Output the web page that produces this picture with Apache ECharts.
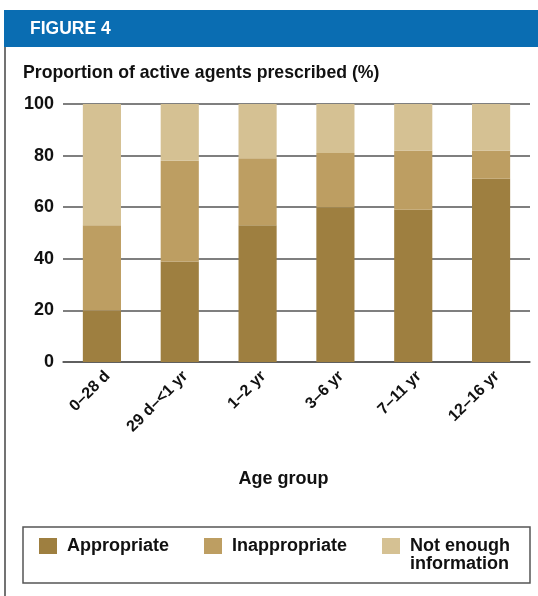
<!DOCTYPE html>
<html>
<head>
<meta charset="utf-8">
<script src="https://cdn.jsdelivr.net/npm/echarts@6/dist/echarts.min.js"></script>
<style>
  html, body { margin: 0; padding: 0; background: #ffffff; }
  #chart { width: 538px; height: 596px; }
</style>
</head>
<body>
<div id="chart"></div>
<script>
// Age groups along the x axis
const categories = ['0–28 d', '29 d–<1 yr', '1–2 yr', '3–6 yr', '7–11 yr', '12–16 yr'];
// Share of active agents prescribed (%), stacked per age group
const appropriate   = [20, 39, 53, 60, 59, 71];
const inappropriate = [33, 39, 26, 21, 23, 11];
const notEnough     = [47, 22, 21, 19, 18, 18];
const yTicks = { min: 0, max: 100, interval: 20 };

const FONT = '"Liberation Sans", Arial, sans-serif';
const COLORS = ['#9e7f40', '#bd9e62', '#d5c193'];
const GRID_LINE = '#555555';

const chart = echarts.init(document.getElementById('chart'), null, { renderer: 'canvas' });

function barSeries(name, values, color) {
  return {
    name: name,
    type: 'bar',
    stack: 'total',
    barWidth: '49%',
    itemStyle: { color: color },
    data: values
  };
}

chart.setOption({
  backgroundColor: '#ffffff',
  animation: false,
  textStyle: { fontFamily: FONT },
  graphic: [
    { type: 'rect', shape: { x: 4, y: 10, width: 534, height: 37 }, style: { fill: '#0a6db2' } },
    // condensed look for the header and heading text
    { type: 'text', x: 30, y: 29, scaleX: 0.92, style: { text: 'FIGURE 4', fill: '#ffffff', font: 'bold 19px ' + FONT, verticalAlign: 'middle' } },
    { type: 'line', shape: { x1: 5, y1: 47, x2: 5, y2: 596 }, style: { stroke: '#444444', lineWidth: 1.5 } },
    { type: 'text', x: 23, y: 73, scaleX: 0.93, style: { text: 'Proportion of active agents prescribed (%)', fill: '#111111', font: 'bold 19px ' + FONT, verticalAlign: 'middle' } },
    { type: 'rect', shape: { x: 23, y: 527, width: 507, height: 56 }, style: { fill: 'none', stroke: '#555555', lineWidth: 1.5 } }
  ],
  grid: { left: 63, right: 8, top: 104, bottom: 234, containLabel: false },
  legend: {
    left: 39,
    top: 519,
    padding: 0,
    itemWidth: 18,
    itemHeight: 16,
    itemGap: 35,
    icon: 'rect',
    selectedMode: false,
    textStyle: { fontFamily: FONT, fontWeight: 'bold', fontSize: 18, color: '#111111', lineHeight: 18 },
    formatter: function (name) {
      // blank first line keeps "Not enough" level with its swatch
      return name === 'Not enough information' ? ' \n Not enough\n information' : ' ' + name;
    },
    data: ['Appropriate', 'Inappropriate', 'Not enough information']
  },
  xAxis: {
    type: 'category',
    data: categories,
    name: 'Age group',
    nameLocation: 'middle',
    nameGap: 108,
    nameTextStyle: { fontFamily: FONT, fontWeight: 'bold', fontSize: 18, color: '#111111', padding: [0, 26, 0, 0] },
    axisLine: { lineStyle: { color: GRID_LINE, width: 1.5 } },
    axisTick: { show: false },
    axisLabel: { rotate: 45, margin: 6, verticalAlign: 'top', fontFamily: FONT, fontWeight: 'bold', fontSize: 16, color: '#111111', interval: 0 }
  },
  yAxis: {
    type: 'value',
    min: yTicks.min,
    max: yTicks.max,
    interval: yTicks.interval,
    axisLine: { show: false },
    axisTick: { show: false },
    axisLabel: { margin: 9, fontFamily: FONT, fontWeight: 'bold', fontSize: 18, color: '#111111' },
    splitLine: { lineStyle: { color: GRID_LINE, width: 1.5 } }
  },
  series: [
    barSeries('Appropriate', appropriate, COLORS[0]),
    barSeries('Inappropriate', inappropriate, COLORS[1]),
    barSeries('Not enough information', notEnough, COLORS[2])
  ]
});
</script>
</body>
</html>
